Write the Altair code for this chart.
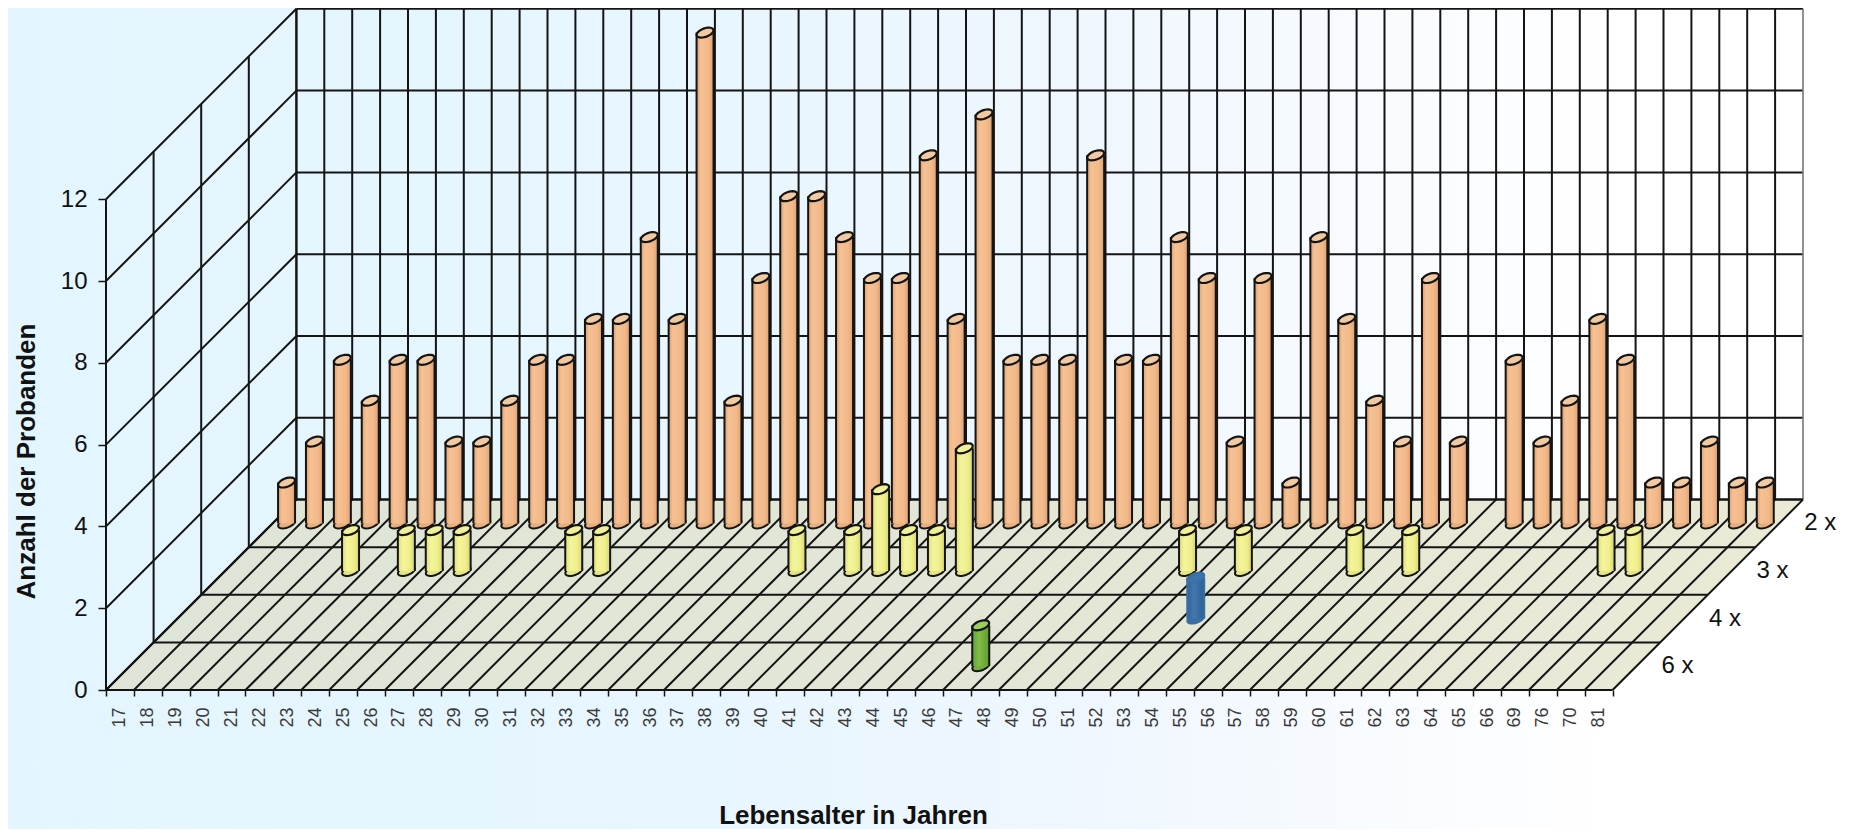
import math
import altair as alt
import pandas as pd

# ---- values ----
ages = [str(a) for a in range(17, 67)] + ["69", "76", "70", "81"]
twice = [1, 2, 4, 3, 4, 4, 2, 2, 3, 4, 4, 5, 5, 7, 5, 12, 3, 6, 8, 8, 7, 6, 6, 9, 5, 10, 4, 4, 4, 9, 4, 4, 7, 6, 2, 6, 1, 7, 5, 3, 2, 6, 2, 0, 4, 2, 3, 5, 4, 1, 1, 2, 1, 1]
thrice = [0, 0, 0, 0, 1, 0, 1, 1, 1, 0, 0, 0, 1, 1, 0, 0, 0, 0, 0, 0, 1, 0, 1, 2, 1, 1, 3, 0, 0, 0, 0, 0, 0, 0, 1, 0, 1, 0, 0, 0, 1, 0, 1, 0, 0, 0, 0, 0, 0, 1, 1, 0, 0, 0]
four = {36: 1}
six = {30: 1}
row_labels = ["6 x", "4 x", "3 x", "2 x"]
y_ticks = [0, 2, 4, 6, 8, 10, 12]

# ---- projection of the pseudo 3D frame ----
W, H = 1838, 821
CAT_PX = 27.9
VAL_PX = 40.9
DEPTH_PX = 47.6
X0_PX, Y0_PX = 98, 682
DX, DY = DEPTH_PX / CAT_PX, DEPTH_PX / VAL_PX
N = len(ages)
DEPTH = len(row_labels)
FONT = "Liberation Sans"
LINE = "#141414"

xdom = [-X0_PX / CAT_PX, (W - X0_PX) / CAT_PX]
ydom = [-(H - Y0_PX) / VAL_PX, Y0_PX / VAL_PX]
xs = alt.Scale(domain=xdom, nice=False, zero=False)
ys = alt.Scale(domain=ydom, nice=False, zero=False)


def X(f, **k):
    return alt.X(f, type="quantitative", scale=xs, axis=k.pop("axis", None), title=None)


def Y(f, **k):
    return alt.Y(f, type="quantitative", scale=ys, axis=k.pop("axis", None), title=None)


def seg(c0, d0, v0, c1, d1, v1):
    return dict(x=c0 + d0 * DX, y=v0 + d0 * DY, x2=c1 + d1 * DX, y2=v1 + d1 * DY)


def rules(rows, color=LINE, width=2.0):
    return alt.Chart(pd.DataFrame(rows)).mark_rule(color=color, strokeWidth=width).encode(
        x=X("x:Q"), y=Y("y:Q"), x2="x2:Q", y2="y2:Q"
    )


def grad(stops):
    return alt.Gradient(
        gradient="linear", x1=0, x2=1, y1=0, y2=0,
        stops=[alt.GradientStop(color=c, offset=o) for o, c in stops],
    )


# tilted ellipse used for the cylinder ends
t = math.radians(20)
pts = []
for k in range(28):
    a = 2 * math.pi * k / 28
    ex, ey = 1.04 * math.cos(a), 0.50 * math.sin(a)
    pts.append((ex * math.cos(t) + ey * math.sin(t), -ex * math.sin(t) + ey * math.cos(t)))
ELL = "M" + " L".join(f"{p[0]:.3f} {p[1]:.3f}" for p in pts) + " Z"
HALF_PX = 8.5


def cylinders(values, depth, stops, top, base, stroke=LINE):
    rows = []
    for i, v in values:
        c = i + 0.5 + depth * DX
        rows.append(dict(cx=c, xl=c - HALF_PX / CAT_PX, xr=c + HALF_PX / CAT_PX,
                         y0=depth * DY, y1=v + depth * DY))
    d = alt.Data(values=rows)
    size = (2 * HALF_PX) ** 2
    return [
        alt.Chart(d).mark_point(shape=ELL, size=size, filled=True, fill=base, stroke=stroke, strokeWidth=2, opacity=1)
        .encode(x=X("cx:Q"), y=Y("y0:Q")),
        alt.Chart(d).mark_rect(color=grad(stops)).encode(x=X("xl:Q"), x2="xr:Q", y=Y("y0:Q"), y2="y1:Q"),
        alt.Chart(d).mark_rule(color=stroke, strokeWidth=2).encode(x=X("xl:Q"), y=Y("y0:Q"), y2="y1:Q"),
        alt.Chart(d).mark_rule(color=stroke, strokeWidth=2).encode(x=X("xr:Q"), y=Y("y0:Q"), y2="y1:Q"),
        alt.Chart(d).mark_point(shape=ELL, size=size, filled=True, fill=top, stroke=stroke, strokeWidth=2.2, opacity=1)
        .encode(x=X("cx:Q"), y=Y("y1:Q")),
    ]


# background, carries the two real axes
label_expr = "split('" + ",".join(ages) + "',',')[datum.value] || ''"
bg = pd.DataFrame([dict(x=xdom[0], x2=xdom[1], y=ydom[0], y2=ydom[1])])
background = alt.Chart(bg).mark_rect(
    color=grad([(0, "#E3F5FE"), (0.35, "#E7F6FF"), (0.6, "#F0F7FE"), (0.78, "#FAFCFF"), (0.87, "#FFFFFF"), (1, "#FFFFFF")])
).encode(
    x=alt.X("x:Q", scale=xs, title="Lebensalter in Jahren", axis=alt.Axis(
        values=list(range(N + 1)), labelExpr=label_expr, offset=-(H - Y0_PX), grid=False, domain=False, zindex=1,
        tickSize=6, tickColor=LINE, tickWidth=1.5, labelAngle=-90, labelOffset=CAT_PX / 2,
        labelFont=FONT, labelFontSize=18, labelColor="#3a3a3a", labelPadding=11, labelOverlap=False,
        labelAlign="right", labelBaseline="middle", labelFlush=False, labelBound=False,
        titleFont=FONT, titleFontSize=26, titleFontWeight="bold", titleColor="#111111",
        titleX=845, titleY=125, titleBaseline="middle", titleAlign="center",
    )),
    x2="x2:Q",
    y=alt.Y("y:Q", scale=ys, title="Anzahl der Probanden", axis=alt.Axis(
        values=y_ticks, offset=-X0_PX, grid=False, domain=False, tickSize=8, tickColor=LINE, tickWidth=1.5, zindex=1,
        labelFont=FONT, labelFontSize=24, labelColor="#111111", labelPadding=11, labelOverlap=False,
        labelBound=False, labelFlush=False,
        titleFont=FONT, titleFontSize=26, titleFontWeight="bold", titleColor="#111111",
        titleX=-80, titleY=453, titleAngle=-90, titleBaseline="middle", titleAlign="center",
    )),
    y2="y2:Q",
)

# floor
floor = alt.Chart(pd.DataFrame([
    dict(x=0, y=0, y2=0),
    dict(x=DEPTH * DX, y=DEPTH * DY, y2=0),
    dict(x=N, y=DEPTH * DY, y2=0),
    dict(x=N + DEPTH * DX, y=DEPTH * DY, y2=DEPTH * DY),
])).mark_area(
    color=grad([(0, "#DEE5D7"), (0.5, "#E3E6D6"), (1, "#EAEAD6")])
).encode(x=X("x:Q"), y=Y("y:Q"), y2="y2:Q")

# grid lines
top = y_ticks[-1]
wall_h = [seg(0, DEPTH, v, N, DEPTH, v) for v in y_ticks]
wall_v = [seg(c, DEPTH, 0, c, DEPTH, top) for c in range(N)]
wall_edge = [seg(N, DEPTH, 0, N, DEPTH, top)]
side_d = [seg(0, 0, v, 0, DEPTH, v) for v in y_ticks]
side_v = [seg(0, d, 0, 0, d, top) for d in range(DEPTH + 1)]
floor_h = [seg(0, d, 0, N, d, 0) for d in range(DEPTH + 1)]
floor_d = [seg(c, 0, 0, c, DEPTH, 0) for c in range(N + 1)]

# row names beyond the floor's right edge
rlab = alt.Chart(pd.DataFrame([
    dict(x=N + (d + 0.5) * DX + 25 / CAT_PX, y=(d + 0.5) * DY, t=row_labels[d]) for d in range(DEPTH)
])).mark_text(align="left", baseline="middle", font=FONT, fontSize=24, color="#111111").encode(
    x=X("x:Q"), y=Y("y:Q"), text="t:N"
)

ORANGE = [(0, "#D9A070"), (0.25, "#F6C194"), (0.7, "#F2B98A"), (1, "#DDA273")]
YELLOW = [(0, "#DDDD78"), (0.3, "#F4F49C"), (0.7, "#EFEF8E"), (1, "#D5D56E")]
BLUE = [(0, "#2F6398"), (0.4, "#4379B0"), (1, "#2C5E91")]
GREEN = [(0, "#62A032"), (0.4, "#82BE48"), (1, "#5F9A30")]

layers = [background, floor, rules(wall_h), rules(wall_v), rules(wall_edge, "#777777", 1.6),
          rules(side_d), rules(side_v), rules(floor_h), rules(floor_d), rlab]
layers += cylinders([(i, v) for i, v in enumerate(twice) if v], 3.5, ORANGE, "#F1C9A2", "#E8AE7E")
layers += cylinders([(i, v) for i, v in enumerate(thrice) if v], 2.5, YELLOW, "#EFEF9C", "#E5E582")
layers += cylinders(sorted(four.items()), 1.5, BLUE, "#3F74AB", "#3A6EA5", stroke="#3A6EA5")
layers += cylinders(sorted(six.items()), 0.5, GREEN, "#9BD060", "#74AE3E")

chart = alt.layer(*layers).resolve_axis(x="independent", y="independent").properties(
    width=W, height=H, padding=0, autosize=alt.AutoSizeParams(type="none"),
    background="#E3F5FE",
).configure_view(stroke=None)

chart.save("out.html", embed_options={"renderer": "svg", "actions": False})
